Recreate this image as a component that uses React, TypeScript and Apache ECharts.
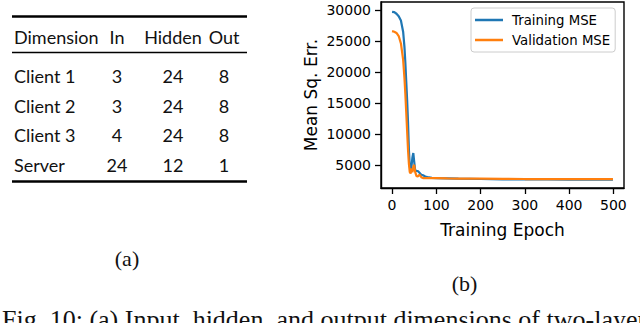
import React, { useEffect, useRef } from "react";
import * as echarts from "echarts";

// ---- Table (a) ----
const tableHeader = ["Dimension", "In", "Hidden", "Out"];
const tableRows: string[][] = [
  ["Client 1", "3", "24", "8"],
  ["Client 2", "3", "24", "8"],
  ["Client 3", "4", "24", "8"],
  ["Server", "24", "12", "1"],
];

// ---- Chart (b) ----
const epochs = [0, 5, 10, 15, 20, 25, 28, 30, 32, 34, 36, 38, 40, 42, 44, 46, 48, 50, 52, 55, 58, 62, 66, 70, 75, 80, 90, 100, 125, 150, 200, 250, 300, 350, 400, 450, 499];
const trainingMSE = [29700, 29650, 29400, 29000, 28300, 26500, 24000, 21500, 18500, 15500, 12000, 7500, 4800, 4200, 4800, 6200, 6900, 5500, 4200, 4000, 4000, 3700, 3400, 3300, 3100, 3000, 2900, 2850, 2800, 2750, 2700, 2650, 2650, 2620, 2600, 2600, 2600];
const validationMSE = [26600, 26500, 26300, 25800, 24600, 22000, 19000, 16500, 13500, 10500, 7500, 5200, 3800, 3600, 4400, 3800, 4700, 5000, 3900, 3200, 3100, 3400, 3000, 2850, 2850, 2850, 2850, 2850, 2800, 2780, 2750, 2720, 2700, 2700, 2700, 2700, 2700];
const xTicks = [0, 100, 200, 300, 400, 500];
const yTicks = [5000, 10000, 15000, 20000, 25000, 30000];
const seriesNames = ["Training MSE", "Validation MSE"];
const colors = ["#1f77b4", "#ff7f0e"];

const captionA = "(a)";
const captionB = "(b)";
const figCaption = "Fig. 10: (a) Input, hidden, and output dimensions of two-layer";

export default function App() {
  const ref = useRef<HTMLDivElement>(null);
  useEffect(() => {
    if (!ref.current) return;
    const chart = echarts.init(ref.current, undefined, { renderer: "svg" });
    const tableFont = "Lato, 'Open Sans', sans-serif";
    const colX = [14, 117, 173, 224];
    const colAlign = ["left", "center", "center", "center"];
    const headerY = 36.5;
    const rowY = [75.5, 105.5, 135.3, 165];
    const graphics: any[] = [];
    // rules
    graphics.push({ type: "line", shape: { x1: 12, y1: 16.5, x2: 247, y2: 16.5 }, style: { stroke: "#000", lineWidth: 2.4 } });
    graphics.push({ type: "line", shape: { x1: 12, y1: 52.5, x2: 247, y2: 52.5 }, style: { stroke: "#000", lineWidth: 1.3 } });
    graphics.push({ type: "line", shape: { x1: 12, y1: 181.5, x2: 247, y2: 181.5 }, style: { stroke: "#000", lineWidth: 2.4 } });
    tableHeader.forEach((h, i) => {
      graphics.push({ type: "text", x: colX[i], y: headerY, style: { text: h, font: `18px ${tableFont}`, fill: "#111", align: colAlign[i], verticalAlign: "middle" } });
    });
    tableRows.forEach((row, r) => {
      row.forEach((c, i) => {
        graphics.push({ type: "text", x: colX[i], y: rowY[r], style: { text: c, font: `18px ${tableFont}`, fill: "#111", align: colAlign[i], verticalAlign: "middle" } });
      });
    });
    const serif = "'Liberation Serif', 'Times New Roman', serif";
    graphics.push({ type: "text", x: 127, y: 258, style: { text: captionA, font: `22px ${serif}`, fill: "#111", align: "center", verticalAlign: "middle" } });
    graphics.push({ type: "text", x: 464.5, y: 283, style: { text: captionB, font: `22px ${serif}`, fill: "#111", align: "center", verticalAlign: "middle" } });
    graphics.push({ type: "text", x: 2, y: 319, style: { text: figCaption, font: `26px ${serif}`, fill: "#111", align: "left", verticalAlign: "middle" } });

    const axisFont = "'DejaVu Sans', sans-serif";
    const plain = (v: number) => String(v);
    chart.setOption({
      animation: false,
      backgroundColor: "#fff",
      graphic: graphics,
      grid: { left: 381, right: 16, top: 2, bottom: 135, show: true, borderColor: "#000", borderWidth: 1.4, backgroundColor: "transparent" },
      legend: {
        left: 471,
        top: 8,
        orient: "vertical",
        data: seriesNames,
        icon: "rect",
        itemWidth: 28,
        itemHeight: 2.5,
        itemGap: 6,
        padding: [5, 5, 5, 4],
        borderColor: "#ccc",
        borderWidth: 1,
        borderRadius: 3,
        backgroundColor: "rgba(255,255,255,0.8)",
        textStyle: { fontFamily: axisFont, fontSize: 13.3, color: "#000", lineHeight: 14, padding: [0, 0, 0, 4] },
      },
      xAxis: {
        type: "value",
        min: -25,
        max: 524,
        name: "Training Epoch",
        nameLocation: "middle",
        nameGap: 33,
        nameTextStyle: { fontFamily: axisFont, fontSize: 17, color: "#000" },
        splitLine: { show: false },
        axisLine: { show: true, onZero: false, lineStyle: { color: "#000", width: 1.4 } },
        axisTick: { show: true, length: 6, lineStyle: { color: "#000", width: 1.3 }, customValues: xTicks },
        axisLabel: { fontFamily: axisFont, fontSize: 14, color: "#000", margin: 10, formatter: plain, customValues: xTicks },
      },
      yAxis: {
        type: "value",
        min: 1250,
        max: 31300,
        name: "Mean Sq. Err.",
        nameLocation: "middle",
        nameGap: 62,
        nameTextStyle: { fontFamily: axisFont, fontSize: 17, color: "#000" },
        splitLine: { show: false },
        axisLine: { show: true, onZero: false, lineStyle: { color: "#000", width: 1.4 } },
        axisTick: { show: true, length: 6, lineStyle: { color: "#000", width: 1.3 }, customValues: yTicks },
        axisLabel: { fontFamily: axisFont, fontSize: 14, color: "#000", margin: 10, formatter: plain, customValues: yTicks },
      },
      series: [trainingMSE, validationMSE].map((vals, si) => ({
        name: seriesNames[si],
        type: "line",
        data: epochs.map((e, i) => [e, vals[i]]),
        showSymbol: false,
        smooth: false,
        lineStyle: { color: colors[si], width: 2.2 },
        itemStyle: { color: colors[si] },
      })),
    });
    return () => chart.dispose();
  }, []);
  return <div ref={ref} style={{ position: "fixed", left: 0, top: 0, width: 640, height: 323 }} />;
}
